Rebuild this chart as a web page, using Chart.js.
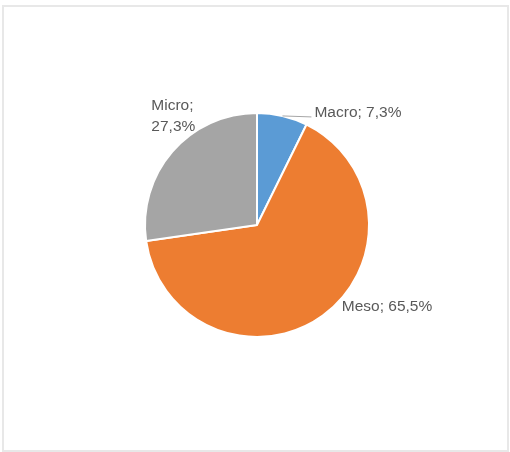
<!DOCTYPE html>
<html>
<head>
<meta charset="utf-8">
<script src="https://cdn.jsdelivr.net/npm/chart.js@4.4.1/dist/chart.umd.min.js"></script>
<style>
  html, body { margin:0; padding:0; background:#fff; }
  #wrap { position:relative; width:510px; height:452px; }
  #frame { position:absolute; left:2px; top:5px; width:503px; height:443px; border:2px solid #e8e8e8; }
  #chart { position:absolute; left:0; top:0; }
</style>
</head>
<body>
<div id="wrap">
  <div id="frame"></div>
  <canvas id="chart" width="510" height="452"></canvas>
</div>
<script>
// categorías y porcentajes
const categorias = ['Macro', 'Meso', 'Micro'];
const porcentajes = [7.3, 65.5, 27.3];
const colores = ['#5b9bd5', '#ed7d31', '#a5a5a5'];

// ubicación de cada etiqueta respecto al borde del sector (punto medio del arco)
const etiquetas = [
  { dx: 32, dy: -3, lineas: 1, guia: true },
  { dx: 19, dy: -9, lineas: 1, guia: false },
  { dx: -21, dy: -46, lineas: 2, guia: false }
];

function fmt(v){ return v.toFixed(1).replace('.', ',') + '%'; }

const etiquetasPlugin = {
  id: 'etiquetas',
  afterDatasetsDraw(chart){
    const ctx = chart.ctx;
    const arcs = chart.getDatasetMeta(0).data;
    ctx.save();
    ctx.font = '15.5px "Liberation Sans", Arial, sans-serif';
    ctx.fillStyle = '#595959';
    ctx.textBaseline = 'middle';
    ctx.textAlign = 'left';
    arcs.forEach((arc, i) => {
      const p = arc.getProps(['x','y','startAngle','endAngle','outerRadius'], true);
      const mid = (p.startAngle + p.endAngle) / 2;
      const ex = p.x + Math.cos(mid) * p.outerRadius;
      const ey = p.y + Math.sin(mid) * p.outerRadius;
      const cfg = etiquetas[i];
      const lx = ex + cfg.dx, ly = ey + cfg.dy;
      if (cfg.guia) {
        ctx.strokeStyle = '#a6a6a6';
        ctx.lineWidth = 1;
        ctx.beginPath();
        ctx.moveTo(ex, ey);
        ctx.lineTo(lx - 3, ly + 4);
        ctx.stroke();
      }
      if (cfg.lineas === 2) {
        ctx.fillText(categorias[i] + ';', lx, ly);
        ctx.fillText(fmt(porcentajes[i]), lx, ly + 21);
      } else {
        ctx.fillText(categorias[i] + '; ' + fmt(porcentajes[i]), lx, ly);
      }
    });
    ctx.restore();
  }
};

new Chart(document.getElementById('chart'), {
  type: 'pie',
  data: {
    labels: categorias,
    datasets: [{
      data: porcentajes,
      backgroundColor: colores,
      borderColor: '#ffffff',
      borderWidth: 2
    }]
  },
  options: {
    responsive: false,
    animation: false,
    radius: 112,
    layout: { padding: { left: 4, right: 0, top: 0, bottom: 2 } },
    plugins: {
      legend: { display: false },
      tooltip: { enabled: false }
    }
  },
  plugins: [etiquetasPlugin]
});
</script>
</body>
</html>
